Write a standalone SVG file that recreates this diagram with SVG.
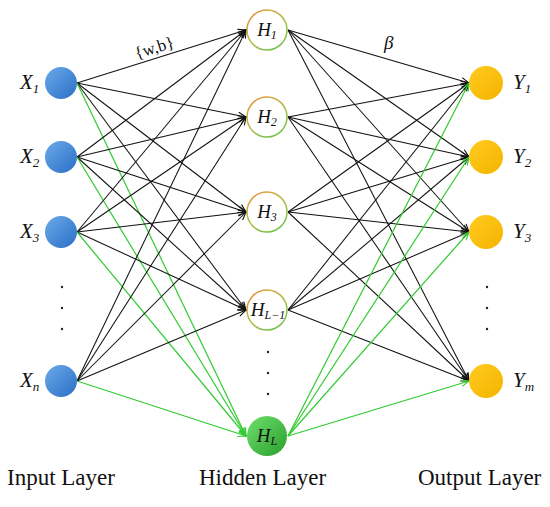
<svg xmlns="http://www.w3.org/2000/svg" width="550" height="507" viewBox="0 0 550 507">
<defs>
<linearGradient id="gBlue" x1="0" y1="0" x2="1" y2="1"><stop offset="0" stop-color="#6AAAE9"/><stop offset="1" stop-color="#2B6EC6"/></linearGradient>
<linearGradient id="gGold" x1="0" y1="0" x2="1" y2="1"><stop offset="0" stop-color="#FFCB1F"/><stop offset="1" stop-color="#F5B300"/></linearGradient>
<linearGradient id="gGreen" x1="0" y1="0" x2="1" y2="1"><stop offset="0" stop-color="#6EDF6E"/><stop offset="1" stop-color="#2A9F2A"/></linearGradient>
<linearGradient id="gRing" x1="0.2" y1="0" x2="0.8" y2="1"><stop offset="0" stop-color="#E8963A"/><stop offset="0.55" stop-color="#A8C04A"/><stop offset="1" stop-color="#6CC24A"/></linearGradient>
<marker id="aK" markerUnits="userSpaceOnUse" markerWidth="10" markerHeight="8" refX="9" refY="4" orient="auto"><path d="M1,0.8 L9,4 L1,7.2" fill="none" stroke="#111" stroke-width="1.1"/></marker>
<marker id="aG" markerUnits="userSpaceOnUse" markerWidth="10" markerHeight="8" refX="9" refY="4" orient="auto"><path d="M1,0.8 L9,4 L1,7.2" fill="none" stroke="#2FCB2F" stroke-width="1.1"/></marker>
</defs>
<style>
.k{stroke:#111;stroke-width:1.05;fill:none;marker-end:url(#aK)}
.g{stroke:#2FCB2F;stroke-width:1.2;fill:none;marker-end:url(#aG)}
.xin{fill:url(#gBlue)}
.yout{fill:url(#gGold)}
.hid{fill:#fff;stroke:url(#gRing);stroke-width:1.5}
.hl{fill:url(#gGreen)}
.lab{font-family:"Liberation Serif","Times New Roman",serif;font-style:italic;font-size:21px;fill:#111}
.hlab{font-family:"Liberation Serif","Times New Roman",serif;font-style:italic;font-size:19px;fill:#111}
.ttl{font-family:"Liberation Serif","Times New Roman",serif;font-size:23px;fill:#111}
.dot{fill:#222}
</style>
<g id="connectors">
<line class="k" x1="77" y1="83" x2="246" y2="30"/>
<line class="k" x1="77" y1="83" x2="246" y2="117"/>
<line class="k" x1="77" y1="83" x2="246" y2="212"/>
<line class="k" x1="77" y1="83" x2="246" y2="310"/>
<line class="g" x1="77" y1="83" x2="246" y2="436"/>
<line class="k" x1="77" y1="157" x2="246" y2="30"/>
<line class="k" x1="77" y1="157" x2="246" y2="117"/>
<line class="k" x1="77" y1="157" x2="246" y2="212"/>
<line class="k" x1="77" y1="157" x2="246" y2="310"/>
<line class="g" x1="77" y1="157" x2="246" y2="436"/>
<line class="k" x1="77" y1="232" x2="246" y2="30"/>
<line class="k" x1="77" y1="232" x2="246" y2="117"/>
<line class="k" x1="77" y1="232" x2="246" y2="212"/>
<line class="k" x1="77" y1="232" x2="246" y2="310"/>
<line class="g" x1="77" y1="232" x2="246" y2="436"/>
<line class="k" x1="77" y1="381" x2="246" y2="30"/>
<line class="k" x1="77" y1="381" x2="246" y2="117"/>
<line class="k" x1="77" y1="381" x2="246" y2="212"/>
<line class="k" x1="77" y1="381" x2="246" y2="310"/>
<line class="g" x1="77" y1="381" x2="246" y2="436"/>
<line class="k" x1="288" y1="30" x2="469" y2="83"/>
<line class="k" x1="288" y1="30" x2="469" y2="157"/>
<line class="k" x1="288" y1="30" x2="469" y2="232"/>
<line class="k" x1="288" y1="30" x2="469" y2="381"/>
<line class="k" x1="288" y1="117" x2="469" y2="83"/>
<line class="k" x1="288" y1="117" x2="469" y2="157"/>
<line class="k" x1="288" y1="117" x2="469" y2="232"/>
<line class="k" x1="288" y1="117" x2="469" y2="381"/>
<line class="k" x1="288" y1="212" x2="469" y2="83"/>
<line class="k" x1="288" y1="212" x2="469" y2="157"/>
<line class="k" x1="288" y1="212" x2="469" y2="232"/>
<line class="k" x1="288" y1="212" x2="469" y2="381"/>
<line class="k" x1="288" y1="310" x2="469" y2="83"/>
<line class="k" x1="288" y1="310" x2="469" y2="157"/>
<line class="k" x1="288" y1="310" x2="469" y2="232"/>
<line class="k" x1="288" y1="310" x2="469" y2="381"/>
<line class="g" x1="288" y1="436" x2="469" y2="83"/>
<line class="g" x1="288" y1="436" x2="469" y2="157"/>
<line class="g" x1="288" y1="436" x2="469" y2="232"/>
<line class="g" x1="288" y1="436" x2="469" y2="381"/>
<text x="156" y="53" transform="rotate(-17.3 156 53)" text-anchor="middle" font-family="Liberation Serif, Times New Roman, serif" font-size="17" fill="#111">{w,b}</text>
<text x="384" y="49" class="hlab">β</text>
</g>
<g id="X1"><circle class="xin" cx="61" cy="83" r="16"/><text class="lab" x="20" y="89">X<tspan font-size="13" dy="4">1</tspan></text></g>
<g id="X2"><circle class="xin" cx="61" cy="157" r="16"/><text class="lab" x="20" y="163">X<tspan font-size="13" dy="4">2</tspan></text></g>
<g id="X3"><circle class="xin" cx="61" cy="232" r="16"/><text class="lab" x="20" y="238">X<tspan font-size="13" dy="4">3</tspan></text></g>
<g id="Xdots"><circle class="dot" cx="62" cy="287" r="1.2"/><circle class="dot" cx="62" cy="308" r="1.2"/><circle class="dot" cx="62" cy="329" r="1.2"/></g>
<g id="Xn"><circle class="xin" cx="61" cy="381" r="16"/><text class="lab" x="20" y="387">X<tspan font-size="13" dy="4">n</tspan></text></g>
<g id="H1"><circle class="hid" cx="267" cy="30" r="20"/><text class="hlab" x="267" y="36" text-anchor="middle">H<tspan font-size="12" dy="3">1</tspan></text></g>
<g id="H2"><circle class="hid" cx="267" cy="117" r="20"/><text class="hlab" x="267" y="123" text-anchor="middle">H<tspan font-size="12" dy="3">2</tspan></text></g>
<g id="H3"><circle class="hid" cx="267" cy="212" r="20"/><text class="hlab" x="267" y="218" text-anchor="middle">H<tspan font-size="12" dy="3">3</tspan></text></g>
<g id="HL-1"><circle class="hid" cx="267" cy="310" r="20"/><text class="hlab" x="268" y="316" text-anchor="middle">H<tspan font-size="12" dy="3">L−1</tspan></text></g>
<g id="Hdots"><circle class="dot" cx="268" cy="352" r="1.2"/><circle class="dot" cx="268" cy="373" r="1.2"/><circle class="dot" cx="268" cy="394" r="1.2"/></g>
<g id="HL"><circle class="hl" cx="267" cy="436" r="20"/><text class="hlab" x="267" y="442" text-anchor="middle">H<tspan font-size="12" dy="3">L</tspan></text></g>
<g id="Y1"><circle class="yout" cx="486" cy="83" r="17"/><text class="lab" x="513" y="89">Y<tspan font-size="13" dy="4">1</tspan></text></g>
<g id="Y2"><circle class="yout" cx="486" cy="157" r="17"/><text class="lab" x="513" y="163">Y<tspan font-size="13" dy="4">2</tspan></text></g>
<g id="Y3"><circle class="yout" cx="486" cy="232" r="17"/><text class="lab" x="513" y="238">Y<tspan font-size="13" dy="4">3</tspan></text></g>
<g id="Ydots"><circle class="dot" cx="487" cy="287" r="1.2"/><circle class="dot" cx="487" cy="308" r="1.2"/><circle class="dot" cx="487" cy="329" r="1.2"/></g>
<g id="Ym"><circle class="yout" cx="486" cy="381" r="17"/><text class="lab" x="513" y="387">Y<tspan font-size="13" dy="4">m</tspan></text></g>
<g id="titles">
<text class="ttl" x="7" y="485">Input Layer</text>
<text class="ttl" x="199" y="485">Hidden Layer</text>
<text class="ttl" x="418" y="485">Output Layer</text>
</g>
</svg>
